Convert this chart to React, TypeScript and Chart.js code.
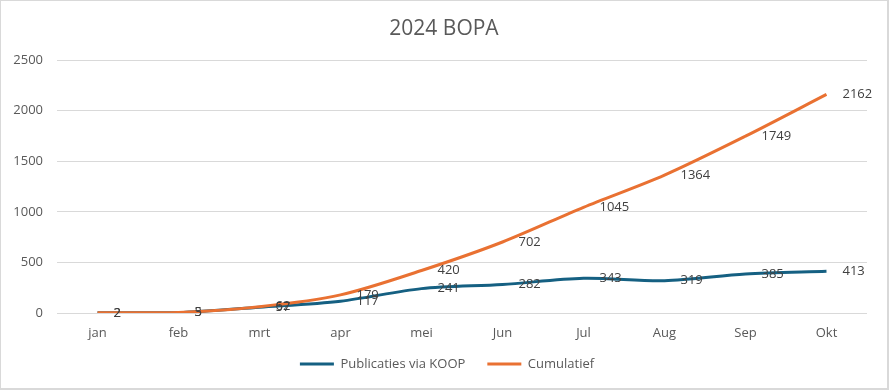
import React, { useEffect, useRef } from "react";
import { Chart, registerables } from "chart.js";

Chart.register(...registerables);

const categories = ["jan", "feb", "mrt", "apr", "mei", "Jun", "Jul", "Aug", "Sep", "Okt"];
const publicaties = [2, 3, 57, 117, 241, 282, 343, 319, 385, 413];
const cumulatief = [2, 5, 62, 179, 420, 702, 1045, 1364, 1749, 2162];
const seriesNames = ["Publicaties via KOOP", "Cumulatief"];
const chartTitle = "2024 BOPA";

const FONT = "'Open Sans', 'Liberation Sans', sans-serif";
const LEGEND_PAD = 22;
const LEGEND_FONT = 13;

const layoutPlugin = {
  id: "layoutTweaks",
  beforeLayout(chart: any) {
    const L = chart.legend;
    if (L && !L._patched) {
      const orig = L.fit;
      L.fit = function () {
        orig.call(this);
        this.height = 39;
      };
      L._patched = true;
    }
  },
  afterLayout(chart: any) {
    const L = chart.legend;
    if (L) {
      const top = 363 - LEGEND_PAD - LEGEND_FONT / 2;
      L.top = top;
      L.bottom = top + 50;
      L.height = 50;
      L.left += 13;
      L.right += 13;
    }
    const T = chart.titleBlock;
    if (T) {
      T.left += 10;
      T.right += 10;
    }
  },
  afterDatasetsDraw(chart: any) {
    const ctx = chart.ctx;
    ctx.save();
    ctx.font = `13px ${FONT}`;
    ctx.fillStyle = "#404040";
    ctx.textAlign = "left";
    ctx.textBaseline = "middle";
    chart.data.datasets.forEach((ds: any, i: number) => {
      const meta = chart.getDatasetMeta(i);
      meta.data.forEach((pt: any, j: number) => {
        ctx.fillText(String(ds.data[j]), pt.x + 16, pt.y);
      });
    });
    ctx.restore();
  },
};

export default function App() {
  const ref = useRef<HTMLCanvasElement>(null);
  useEffect(() => {
    document.body.style.margin = "0";
    const chart = new Chart(ref.current!, {
      type: "line",
      data: {
        labels: categories,
        datasets: [
          {
            label: seriesNames[0],
            data: publicaties,
            borderColor: "#156082",
            backgroundColor: "#156082",
            borderWidth: 3,
            pointRadius: 0,
            tension: 0.3,
            order: 1,
          },
          {
            label: seriesNames[1],
            data: cumulatief,
            borderColor: "#E97132",
            backgroundColor: "#E97132",
            borderWidth: 3,
            pointRadius: 0,
            tension: 0.3,
            order: 0,
          },
        ],
      },
      options: {
        animation: false,
        responsive: false,
        maintainAspectRatio: false,
        layout: { padding: { top: 10, right: 20, left: 0, bottom: 6 } },
        plugins: {
          title: {
            display: true,
            text: chartTitle,
            color: "#595959",
            font: { family: FONT, size: 21, weight: "normal" },
            padding: { top: 5, bottom: 19 },
          },
          legend: {
            position: "bottom",
            labels: {
              usePointStyle: true,
              pointStyle: "line",
              pointStyleWidth: 34,
              color: "#595959",
              font: { family: FONT, size: LEGEND_FONT },
              padding: LEGEND_PAD,
              sort: (a: any, b: any) => a.datasetIndex - b.datasetIndex,
            },
          },
          tooltip: { enabled: false },
        },
        scales: {
          x: {
            offset: true,
            grid: { display: false, drawTicks: false },
            border: { display: false },
            ticks: { color: "#595959", font: { family: FONT, size: 13 }, padding: 12 },
            afterFit: (s: any) => {
              s.height = 30;
            },
          },
          y: {
            min: 0,
            max: 2500,
            ticks: {
              stepSize: 500,
              color: "#595959",
              font: { family: FONT, size: 13 },
              padding: 14,
              callback: (v: any) => String(v),
            },
            grid: { color: "#d9d9d9", drawTicks: false },
            border: { display: false },
            afterFit: (s: any) => {
              s.width = 56;
            },
          },
        },
      },
      plugins: [layoutPlugin],
    });
    return () => chart.destroy();
  }, []);
  return (
    <div
      style={{
        width: 889,
        height: 390,
        boxSizing: "border-box",
        borderTop: "1px solid #d9d9d9",
        borderLeft: "1px solid #d9d9d9",
        borderRight: "2px solid #d9d9d9",
        borderBottom: "2px solid #d9d9d9",
        background: "#fff",
      }}
    >
      <canvas ref={ref} width={886} height={387} style={{ display: "block" }} />
    </div>
  );
}
